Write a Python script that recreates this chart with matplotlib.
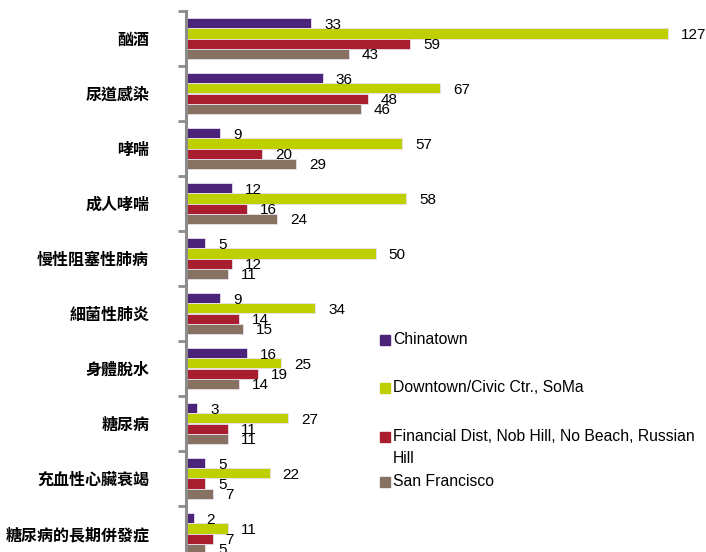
import matplotlib.pyplot as plt
import matplotlib.patches as mpatches
import numpy as np

plt.rcParams['font.family'] = ['Noto Sans CJK TC', 'DejaVu Sans']
latin = ['Liberation Sans', 'DejaVu Sans']

categories = ['酗酒', '尿道感染', '哮喘', '成人哮喘', '慢性阻塞性肺病',
              '細菌性肺炎', '身體脫水', '糖尿病', '充血性心臟衰竭', '糖尿病的長期併發症']
series = ['Chinatown', 'Downtown/Civic Ctr., SoMa',
          'Financial Dist, Nob Hill, No Beach, Russian\nHill', 'San Francisco']
chinatown = [33, 36, 9, 12, 5, 9, 16, 3, 5, 2]
downtown = [127, 67, 57, 58, 50, 34, 25, 27, 22, 11]
financial = [59, 48, 20, 16, 12, 14, 19, 11, 5, 7]
sanfran = [43, 46, 29, 24, 11, 15, 14, 11, 7, 5]

colors = ['#4b2378', '#bed000', '#a81e2e', '#877262']
values = [chinatown, downtown, financial, sanfran]

fig = plt.figure(figsize=(7.06, 5.52), dpi=100)
ax = fig.add_axes([186 / 706, -9 / 552, 520 / 706, 550 / 552])

n = len(categories)
y = np.arange(n)
h = 0.185
for k, vals in enumerate(values):
    pos = y + (k - 1.5) * h
    ax.barh(pos, vals, height=h, color=colors[k], edgecolor='#e8e0ee', linewidth=0.6)
    for p, v in zip(pos, vals):
        ax.text(v + 3.4, p + 0.03, str(v), va='center', ha='left', fontsize=11,
                family=latin)

ax.set_xlim(0, 137)
ax.set_ylim(n - 0.5, -0.5)

for s in ['top', 'right', 'bottom']:
    ax.spines[s].set_visible(False)
ax.spines['left'].set_color('#8c8c8c')
ax.spines['left'].set_linewidth(2.2)
ax.set_xticks([])

ax.set_yticks(np.arange(n + 1) - 0.5)
ax.set_yticklabels([])
ax.tick_params(axis='y', which='major', length=6, width=2, color='#8c8c8c', direction='out')
ax.set_yticks(y, minor=True)
ax.set_yticklabels(categories, minor=True, fontsize=11.5, fontweight='bold')
ax.tick_params(axis='y', which='minor', length=0, pad=26.5)

# legend
leg_y = [340, 388, 437, 482]
for k, name in enumerate(series):
    yy = 1 - leg_y[k] / 552
    fig.patches.append(mpatches.Rectangle((380 / 706, yy - 5 / 552), 10 / 706, 10 / 552,
                                          transform=fig.transFigure, color=colors[k]))
    fig.text(393 / 706, yy + 8 / 552, name, va='top', ha='left', fontsize=11.3,
             linespacing=1.6, family=latin)

fig.savefig('out.png', dpi=100)
